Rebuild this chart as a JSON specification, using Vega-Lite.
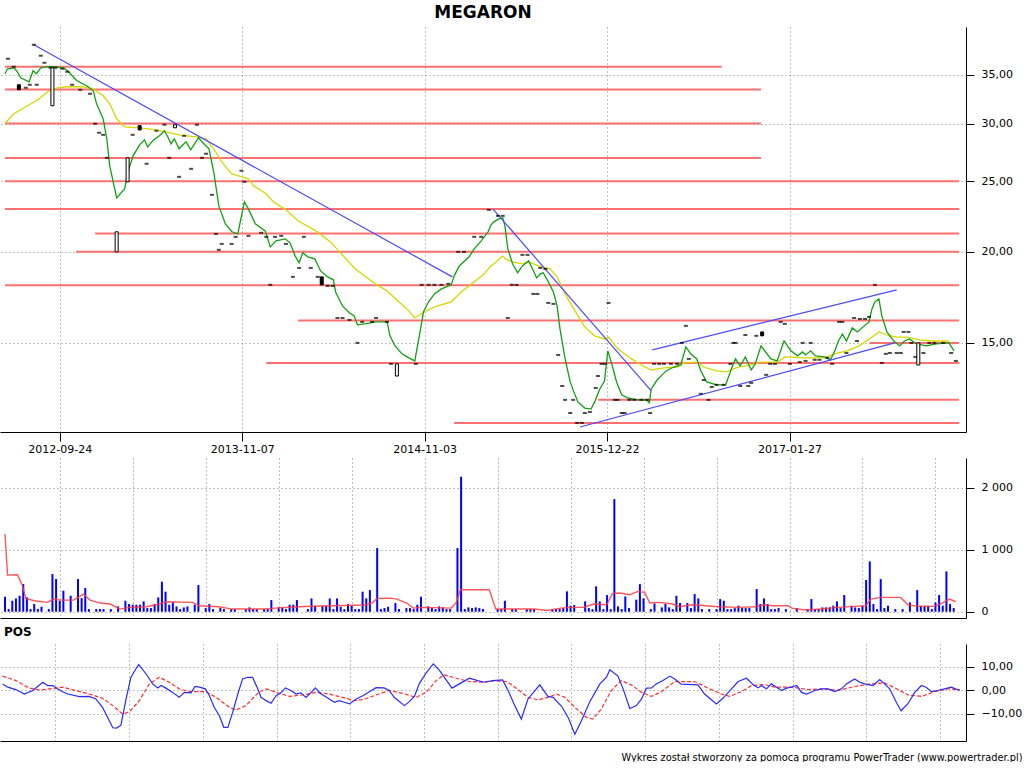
{
"$schema":"https://vega.github.io/schema/vega-lite/v6.json",
"background":"white",
"padding":{"left":0,"top":3,"right":0,"bottom":0},
"spacing":26,
"bounds":"flush",
"config":{"font":"DejaVu Sans","view":{"stroke":null},"axis":{"labelFont":"DejaVu Sans","labelFontSize":11,"labelColor":"black","domainColor":"black","tickColor":"black","gridColor":"#808080","gridDash":[1,3],"gridOpacity":1}},
"datasets":{
"close":[{"i":0,"v":35.11},{"i":0.7,"v":35.67},{"i":2.5,"v":35.78},{"i":3.4,"v":35.33},{"i":4.3,"v":34.67},{"i":6.6,"v":34.23},{"i":7.7,"v":35.45},{"i":8.6,"v":35.11},{"i":9.8,"v":35.78},{"i":11.6,"v":35.9},{"i":13.4,"v":35.9},{"i":16.1,"v":35.78},{"i":17.4,"v":35.33},{"i":19.7,"v":34.34},{"i":22.4,"v":33.8},{"i":24.2,"v":33.27},{"i":25.1,"v":31.93},{"i":26.9,"v":30.45},{"i":27.9,"v":28.59},{"i":28.7,"v":26.25},{"i":30.6,"v":23.72},{"i":32.8,"v":24.41},{"i":33.7,"v":25.76},{"i":35.1,"v":27.09},{"i":36.9,"v":28.05},{"i":38.2,"v":28.5},{"i":39.1,"v":27.87},{"i":40.5,"v":28.41},{"i":42.3,"v":28.86},{"i":43.7,"v":29.32},{"i":44.6,"v":28.77},{"i":45.5,"v":28.14},{"i":46.4,"v":28.59},{"i":47.7,"v":27.7},{"i":49.6,"v":28.32},{"i":50.9,"v":27.61},{"i":52.3,"v":28.32},{"i":53,"v":28.68},{"i":54.5,"v":28.14},{"i":55.9,"v":27.7},{"i":57.2,"v":25.76},{"i":58.6,"v":23.13},{"i":60.4,"v":21.85},{"i":62.2,"v":21.31},{"i":63.8,"v":21.17},{"i":65.6,"v":23.43},{"i":66.7,"v":22.91},{"i":68.6,"v":21.85},{"i":71.3,"v":21.37},{"i":72.7,"v":20.32},{"i":74.3,"v":20.71},{"i":76.8,"v":20.84},{"i":78.1,"v":20.58},{"i":79.5,"v":19.75},{"i":80.6,"v":19.32},{"i":81.6,"v":19.94},{"i":83,"v":19.69},{"i":84.9,"v":19.56},{"i":86.5,"v":18.83},{"i":88.4,"v":18.48},{"i":90,"v":18.31},{"i":90.6,"v":17.62},{"i":92.5,"v":16.86},{"i":94.4,"v":16.49},{"i":95.7,"v":16.34},{"i":96.6,"v":15.88},{"i":98.5,"v":15.93},{"i":100.1,"v":15.98},{"i":101.4,"v":16.03},{"i":103.3,"v":16.03},{"i":104.7,"v":16.03},{"i":105.5,"v":15.34},{"i":106.9,"v":14.86},{"i":108.8,"v":14.49},{"i":110.7,"v":14.31},{"i":112.3,"v":14.17},{"i":113.4,"v":15.19},{"i":114.7,"v":16.55},{"i":116.1,"v":17.08},{"i":117.7,"v":17.51},{"i":119.6,"v":17.79},{"i":122.3,"v":18.02},{"i":123.1,"v":18.54},{"i":124.5,"v":19.13},{"i":127.2,"v":19.69},{"i":128.6,"v":20.19},{"i":130.5,"v":20.71},{"i":132.4,"v":21.31},{"i":133.2,"v":21.78},{"i":134,"v":21.99},{"i":135.3,"v":22.2},{"i":136.4,"v":22.27},{"i":137,"v":21.71},{"i":137.8,"v":20.19},{"i":139.1,"v":19.26},{"i":140.5,"v":18.72},{"i":141.8,"v":19.13},{"i":143.5,"v":19.44},{"i":144.6,"v":18.95},{"i":145.7,"v":18.42},{"i":146.7,"v":18.66},{"i":147.5,"v":18.72},{"i":148.9,"v":18.19},{"i":150.3,"v":17.62},{"i":151.3,"v":16.86},{"i":152.1,"v":15.68},{"i":153.5,"v":14.26},{"i":154.9,"v":13.26},{"i":155.9,"v":12.85},{"i":157,"v":12.45},{"i":158.9,"v":12.21},{"i":160.6,"v":12.17},{"i":161.6,"v":12.45},{"i":163,"v":12.97},{"i":164.3,"v":13.3},{"i":165.2,"v":14.63},{"i":166.3,"v":14.04},{"i":167.6,"v":13.26},{"i":169,"v":12.73},{"i":170.6,"v":12.61},{"i":173.3,"v":12.53},{"i":175.8,"v":12.53},{"i":176.6,"v":12.41},{"i":177.1,"v":12.97},{"i":178.7,"v":13.34},{"i":181.2,"v":13.73},{"i":183.3,"v":13.9},{"i":185.2,"v":13.99},{"i":186.6,"v":14.81},{"i":187.9,"v":14.49},{"i":189.6,"v":14.26},{"i":190.7,"v":13.73},{"i":192.3,"v":13.26},{"i":195,"v":13.14},{"i":197.5,"v":13.14},{"i":198.8,"v":13.69},{"i":199.6,"v":14.04},{"i":200.2,"v":14.26},{"i":201.5,"v":13.95},{"i":202.9,"v":14.35},{"i":204.5,"v":13.77},{"i":205.6,"v":14.04},{"i":207.2,"v":14.86},{"i":209.9,"v":14.26},{"i":211.6,"v":14.17},{"i":213.5,"v":15.09},{"i":215.4,"v":14.63},{"i":217.2,"v":14.4},{"i":218.6,"v":14.58},{"i":219.4,"v":14.44},{"i":220.8,"v":14.63},{"i":222.1,"v":14.4},{"i":224.6,"v":14.35},{"i":226.2,"v":14.22},{"i":227.3,"v":14.58},{"i":228.4,"v":15.09},{"i":229.5,"v":15.43},{"i":230.6,"v":15.09},{"i":232.2,"v":15.73},{"i":233.6,"v":15.53},{"i":235.5,"v":15.83},{"i":236.8,"v":16.03},{"i":237.6,"v":16.7},{"i":238.4,"v":17.08},{"i":239.5,"v":17.24},{"i":240.3,"v":16.34},{"i":241.7,"v":15.53},{"i":243.6,"v":15.09},{"i":245.2,"v":14.86},{"i":246.5,"v":15.09},{"i":247.9,"v":15.19},{"i":249.8,"v":14.95},{"i":252.5,"v":14.86},{"i":255.2,"v":14.95},{"i":258.7,"v":15.0},{"i":260.1,"v":14.63}],
"ma":[{"i":0,"v":30.0},{"i":2.4,"v":30.94},{"i":5.2,"v":31.53},{"i":7.1,"v":31.93},{"i":9,"v":32.34},{"i":11.7,"v":33.17},{"i":14.4,"v":33.59},{"i":17.1,"v":33.7},{"i":21.4,"v":33.7},{"i":24.1,"v":33.48},{"i":26.9,"v":32.75},{"i":28.7,"v":31.93},{"i":30.6,"v":30.45},{"i":32.8,"v":29.69},{"i":36.9,"v":29.6},{"i":41.5,"v":29.41},{"i":44.2,"v":29.23},{"i":47.7,"v":28.95},{"i":52.3,"v":28.77},{"i":55.1,"v":28.59},{"i":57.2,"v":27.7},{"i":59.4,"v":26.58},{"i":62.1,"v":25.6},{"i":64,"v":25.43},{"i":66.7,"v":25.19},{"i":68.1,"v":24.64},{"i":71.6,"v":24.03},{"i":73.5,"v":23.43},{"i":77,"v":22.84},{"i":80.3,"v":22.06},{"i":85.2,"v":21.37},{"i":89.2,"v":20.64},{"i":91.7,"v":20.0},{"i":96,"v":18.95},{"i":101.4,"v":18.08},{"i":104.7,"v":17.68},{"i":107.9,"v":17.08},{"i":110.7,"v":16.6},{"i":112.3,"v":16.23},{"i":115,"v":16.55},{"i":117.7,"v":16.81},{"i":122.3,"v":17.08},{"i":125,"v":17.62},{"i":128.6,"v":18.19},{"i":131.3,"v":18.66},{"i":133.2,"v":19.13},{"i":134,"v":19.26},{"i":136.4,"v":19.75},{"i":137.2,"v":19.56},{"i":139.1,"v":19.38},{"i":141.8,"v":19.26},{"i":143.5,"v":19.38},{"i":146.2,"v":19.13},{"i":149.4,"v":18.95},{"i":151.3,"v":18.48},{"i":153.5,"v":17.51},{"i":156.2,"v":16.6},{"i":158.9,"v":15.78},{"i":161.6,"v":15.34},{"i":164.4,"v":15.19},{"i":165.4,"v":15.28},{"i":167.9,"v":14.72},{"i":171.7,"v":14.26},{"i":174.4,"v":13.99},{"i":177.1,"v":13.77},{"i":180.6,"v":13.86},{"i":184.2,"v":13.9},{"i":186.1,"v":14.08},{"i":189.6,"v":14.12},{"i":191.5,"v":13.9},{"i":195,"v":13.73},{"i":197.7,"v":13.69},{"i":199.6,"v":13.82},{"i":201,"v":13.9},{"i":204.5,"v":13.99},{"i":207.2,"v":14.12},{"i":211.8,"v":14.12},{"i":213.7,"v":14.35},{"i":219.1,"v":14.31},{"i":224.6,"v":14.31},{"i":227.3,"v":14.49},{"i":230.8,"v":14.63},{"i":233.5,"v":14.81},{"i":235.7,"v":15.05},{"i":238.1,"v":15.34},{"i":239.5,"v":15.53},{"i":241.7,"v":15.38},{"i":244.4,"v":15.28},{"i":247.1,"v":15.28},{"i":250.6,"v":15.14},{"i":254.4,"v":15.09},{"i":258.7,"v":15.09}],
"levels":[{"v":35.9,"i0":0,"i1":196.4},{"v":33.4,"i0":0,"i1":207.2},{"v":30.0,"i0":0,"i1":207.2},{"v":26.9,"i0":0,"i1":207.2},{"v":25.0,"i0":0,"i1":261.5},{"v":22.9,"i0":0,"i1":261.5},{"v":21.2,"i0":24.7,"i1":261.5},{"v":20.0,"i0":19.5,"i1":261.5},{"v":18.0,"i0":0,"i1":261.5},{"v":16.1,"i0":80.3,"i1":261.5},{"v":14.08,"i0":71.6,"i1":261.5},{"v":12.53,"i0":162.5,"i1":261.5},{"v":11.65,"i0":123.1,"i1":261.5},{"v":15.0,"i0":237.0,"i1":261.5}],
"trend":[{"i0":7.9,"v0":38.48,"i1":122.6,"v1":18.48},{"i0":133.7,"v0":22.91,"i1":177.1,"v1":12.89},{"i0":177.4,"v0":14.67,"i1":244.4,"v1":17.74},{"i0":157.6,"v0":11.5,"i1":243.8,"v1":15.0}],
"dash":[{"i":0.8,"v":36.82},{"i":7.9,"v":38.48},{"i":9.8,"v":37.17},{"i":10.8,"v":36.35},{"i":2.4,"v":35.9},{"i":5.7,"v":33.59},{"i":6.8,"v":33.91},{"i":8.7,"v":33.91},{"i":12.5,"v":35.78},{"i":13.8,"v":35.78},{"i":15.7,"v":35.67},{"i":17.1,"v":35.33},{"i":18.4,"v":33.91},{"i":20.6,"v":33.38},{"i":23.3,"v":32.96},{"i":24.7,"v":29.98},{"i":25.8,"v":29.14},{"i":26.9,"v":28.95},{"i":27.9,"v":26.92},{"i":35.0,"v":28.95},{"i":38.8,"v":26.42},{"i":41.5,"v":29.32},{"i":43.7,"v":29.89},{"i":45.0,"v":26.92},{"i":47.7,"v":25.35},{"i":49.1,"v":28.86},{"i":51.0,"v":26.0},{"i":52.6,"v":29.89},{"i":54.0,"v":26.92},{"i":55.1,"v":27.27},{"i":56.7,"v":23.95},{"i":57.8,"v":21.17},{"i":58.6,"v":20.13},{"i":59.4,"v":20.51},{"i":62.1,"v":20.51},{"i":63.2,"v":20.97},{"i":64.8,"v":25.84},{"i":65.6,"v":24.96},{"i":66.7,"v":21.04},{"i":70.2,"v":21.24},{"i":71.6,"v":20.97},{"i":74.0,"v":20.97},{"i":75.7,"v":21.04},{"i":77.0,"v":20.51},{"i":72.7,"v":18.02},{"i":78.9,"v":18.48},{"i":80.6,"v":19.01},{"i":81.9,"v":20.97},{"i":83.8,"v":19.01},{"i":85.7,"v":18.48},{"i":88.4,"v":17.96},{"i":89.8,"v":17.96},{"i":91.1,"v":16.23},{"i":92.5,"v":16.23},{"i":94.4,"v":16.13},{"i":96.6,"v":15.0},{"i":97.9,"v":16.03},{"i":100.6,"v":16.03},{"i":101.7,"v":16.23},{"i":104.7,"v":16.03},{"i":105.8,"v":14.04},{"i":112.6,"v":14.04},{"i":114.2,"v":18.02},{"i":116.1,"v":18.02},{"i":117.7,"v":18.02},{"i":119.6,"v":18.02},{"i":121.5,"v":18.08},{"i":124.2,"v":20.0},{"i":125.8,"v":20.0},{"i":128.6,"v":20.97},{"i":130.5,"v":20.97},{"i":132.6,"v":22.84},{"i":135.1,"v":22.41},{"i":136.4,"v":22.41},{"i":137.8,"v":16.23},{"i":138.9,"v":18.02},{"i":140.2,"v":18.02},{"i":141.8,"v":19.81},{"i":143.2,"v":19.81},{"i":144.8,"v":17.51},{"i":145.9,"v":17.51},{"i":146.7,"v":19.01},{"i":148.1,"v":18.95},{"i":148.9,"v":17.02},{"i":150.3,"v":16.97},{"i":151.6,"v":14.44},{"i":152.7,"v":13.09},{"i":153.5,"v":12.53},{"i":155.7,"v":12.53},{"i":154.9,"v":12.02},{"i":156.8,"v":11.65},{"i":158.1,"v":11.65},{"i":158.9,"v":12.02},{"i":160.3,"v":12.06},{"i":161.9,"v":13.01},{"i":162.5,"v":13.51},{"i":163.5,"v":14.04},{"i":164.4,"v":14.04},{"i":165.4,"v":17.02},{"i":167.1,"v":12.53},{"i":167.9,"v":12.53},{"i":169.0,"v":12.02},{"i":169.8,"v":12.02},{"i":171.1,"v":12.53},{"i":172.5,"v":12.53},{"i":174.4,"v":12.53},{"i":176.0,"v":12.53},{"i":176.8,"v":12.02},{"i":177.9,"v":14.04},{"i":179.3,"v":14.04},{"i":180.6,"v":14.04},{"i":182.5,"v":14.04},{"i":184.2,"v":14.04},{"i":185.5,"v":15.0},{"i":186.6,"v":15.83},{"i":187.4,"v":14.26},{"i":190.7,"v":12.77},{"i":191.5,"v":13.34},{"i":192.8,"v":12.53},{"i":193.7,"v":13.05},{"i":195.0,"v":13.14},{"i":196.9,"v":13.14},{"i":198.8,"v":14.04},{"i":199.6,"v":15.0},{"i":200.2,"v":15.0},{"i":201.5,"v":13.09},{"i":203.7,"v":13.09},{"i":204.5,"v":13.22},{"i":202.9,"v":15.38},{"i":205.9,"v":15.34},{"i":208.6,"v":13.56},{"i":209.7,"v":14.04},{"i":211.0,"v":14.04},{"i":212.6,"v":16.03},{"i":213.7,"v":15.93},{"i":215.1,"v":14.04},{"i":217.8,"v":14.12},{"i":218.6,"v":15.0},{"i":219.4,"v":14.17},{"i":220.8,"v":15.0},{"i":221.9,"v":14.22},{"i":223.2,"v":14.22},{"i":225.4,"v":14.31},{"i":226.7,"v":14.04},{"i":228.6,"v":16.03},{"i":229.5,"v":16.03},{"i":230.6,"v":14.53},{"i":232.7,"v":16.23},{"i":233.5,"v":15.09},{"i":234.3,"v":16.18},{"i":235.7,"v":16.18},{"i":236.8,"v":16.29},{"i":238.4,"v":18.02},{"i":240.3,"v":14.08},{"i":241.4,"v":14.49},{"i":242.5,"v":14.53},{"i":244.4,"v":14.53},{"i":245.5,"v":14.53},{"i":246.3,"v":15.53},{"i":247.6,"v":15.53},{"i":248.4,"v":15.0},{"i":249.5,"v":14.35},{"i":251.7,"v":14.53},{"i":253.3,"v":15.0},{"i":254.7,"v":15.0},{"i":257.1,"v":15.0},{"i":259.3,"v":14.53},{"i":260.6,"v":14.17}],
"candle":[{"i":3.8,"top":33.91,"bot":33.38,"kind":"down"},{"i":13,"top":35.78,"bot":31.73,"kind":"up"},{"i":30.6,"top":21.31,"bot":20.0,"kind":"up"},{"i":33.6,"top":26.92,"bot":24.96,"kind":"up"},{"i":36.9,"top":29.8,"bot":29.4,"kind":"down"},{"i":46.6,"top":29.89,"bot":29.6,"kind":"up"},{"i":86.8,"top":18.48,"bot":18.02,"kind":"down"},{"i":107.4,"top":14.04,"bot":13.51,"kind":"up"},{"i":207.5,"top":15.53,"bot":15.34,"kind":"down"},{"i":250.3,"top":15.0,"bot":13.99,"kind":"up"}],
"vol":[{"i":0,"q":242},{"i":1,"q":43},{"i":2,"q":177},{"i":3,"q":215},{"i":4,"q":258},{"i":5,"q":446},{"i":6,"q":231},{"i":7,"q":43},{"i":8,"q":124},{"i":9,"q":43},{"i":10,"q":81},{"i":12,"q":43},{"i":13,"q":607},{"i":14,"q":527},{"i":15,"q":177},{"i":16,"q":339},{"i":18,"q":258},{"i":20,"q":527},{"i":21,"q":220},{"i":22,"q":382},{"i":23,"q":43},{"i":25,"q":43},{"i":26,"q":43},{"i":27,"q":43},{"i":29,"q":43},{"i":31,"q":86},{"i":33,"q":177},{"i":34,"q":124},{"i":35,"q":113},{"i":36,"q":113},{"i":37,"q":113},{"i":38,"q":167},{"i":39,"q":59},{"i":40,"q":59},{"i":41,"q":124},{"i":42,"q":231},{"i":43,"q":484},{"i":44,"q":323},{"i":45,"q":113},{"i":46,"q":151},{"i":47,"q":86},{"i":48,"q":43},{"i":49,"q":70},{"i":50,"q":86},{"i":52,"q":113},{"i":53,"q":430},{"i":55,"q":59},{"i":56,"q":124},{"i":57,"q":43},{"i":59,"q":59},{"i":60,"q":43},{"i":62,"q":43},{"i":63,"q":43},{"i":66,"q":43},{"i":67,"q":70},{"i":68,"q":43},{"i":69,"q":43},{"i":71,"q":43},{"i":72,"q":43},{"i":73,"q":188},{"i":75,"q":70},{"i":76,"q":70},{"i":77,"q":43},{"i":78,"q":113},{"i":79,"q":113},{"i":80,"q":188},{"i":83,"q":43},{"i":84,"q":215},{"i":85,"q":97},{"i":87,"q":97},{"i":88,"q":97},{"i":89,"q":215},{"i":90,"q":43},{"i":91,"q":215},{"i":92,"q":81},{"i":93,"q":43},{"i":94,"q":124},{"i":95,"q":97},{"i":96,"q":43},{"i":97,"q":43},{"i":98,"q":323},{"i":99,"q":215},{"i":100,"q":349},{"i":102,"q":1027},{"i":103,"q":43},{"i":104,"q":59},{"i":105,"q":81},{"i":107,"q":140},{"i":108,"q":43},{"i":110,"q":59},{"i":111,"q":59},{"i":112,"q":43},{"i":113,"q":113},{"i":114,"q":242},{"i":116,"q":86},{"i":117,"q":59},{"i":118,"q":43},{"i":119,"q":86},{"i":120,"q":70},{"i":121,"q":43},{"i":122,"q":43},{"i":124,"q":1027},{"i":125,"q":2177},{"i":126,"q":43},{"i":127,"q":70},{"i":128,"q":59},{"i":129,"q":70},{"i":130,"q":59},{"i":131,"q":43},{"i":135,"q":43},{"i":136,"q":43},{"i":137,"q":177},{"i":139,"q":43},{"i":140,"q":43},{"i":143,"q":43},{"i":144,"q":43},{"i":145,"q":43},{"i":150,"q":43},{"i":151,"q":43},{"i":152,"q":43},{"i":153,"q":59},{"i":154,"q":328},{"i":155,"q":97},{"i":156,"q":108},{"i":159,"q":167},{"i":160,"q":59},{"i":161,"q":43},{"i":162,"q":409},{"i":163,"q":167},{"i":164,"q":43},{"i":165,"q":269},{"i":166,"q":43},{"i":167,"q":1817},{"i":168,"q":86},{"i":169,"q":43},{"i":170,"q":247},{"i":171,"q":59},{"i":173,"q":194},{"i":174,"q":446},{"i":175,"q":215},{"i":177,"q":43},{"i":178,"q":134},{"i":180,"q":70},{"i":181,"q":124},{"i":182,"q":70},{"i":183,"q":43},{"i":184,"q":258},{"i":185,"q":140},{"i":187,"q":140},{"i":188,"q":59},{"i":189,"q":285},{"i":190,"q":215},{"i":191,"q":43},{"i":193,"q":43},{"i":195,"q":43},{"i":196,"q":204},{"i":197,"q":177},{"i":198,"q":43},{"i":199,"q":43},{"i":200,"q":59},{"i":201,"q":97},{"i":202,"q":59},{"i":203,"q":59},{"i":204,"q":59},{"i":206,"q":366},{"i":207,"q":124},{"i":208,"q":215},{"i":209,"q":124},{"i":210,"q":43},{"i":211,"q":43},{"i":212,"q":59},{"i":214,"q":43},{"i":217,"q":59},{"i":220,"q":43},{"i":221,"q":204},{"i":222,"q":43},{"i":223,"q":43},{"i":224,"q":70},{"i":225,"q":70},{"i":226,"q":70},{"i":227,"q":97},{"i":228,"q":167},{"i":229,"q":59},{"i":230,"q":269},{"i":232,"q":97},{"i":233,"q":70},{"i":234,"q":59},{"i":235,"q":97},{"i":236,"q":511},{"i":237,"q":812},{"i":238,"q":124},{"i":239,"q":43},{"i":240,"q":527},{"i":241,"q":59},{"i":242,"q":97},{"i":244,"q":43},{"i":246,"q":43},{"i":248,"q":151},{"i":250,"q":349},{"i":251,"q":97},{"i":252,"q":97},{"i":253,"q":97},{"i":254,"q":43},{"i":255,"q":151},{"i":256,"q":269},{"i":257,"q":97},{"i":258,"q":650},{"i":259,"q":124},{"i":260,"q":59}],
"volma":[{"i":0,"m":1253},{"i":0.7,"m":591},{"i":3.4,"m":597},{"i":4.8,"m":419},{"i":5.7,"m":215},{"i":8,"m":177},{"i":11.6,"m":151},{"i":13.4,"m":204},{"i":15.2,"m":188},{"i":18.8,"m":188},{"i":21.5,"m":285},{"i":23.3,"m":188},{"i":26,"m":140},{"i":28.8,"m":124},{"i":31.5,"m":43},{"i":34.2,"m":70},{"i":38.7,"m":81},{"i":42.3,"m":124},{"i":44.1,"m":161},{"i":51.4,"m":151},{"i":53.2,"m":97},{"i":58.6,"m":81},{"i":62.2,"m":43},{"i":71.2,"m":43},{"i":74,"m":59},{"i":80.3,"m":81},{"i":89.3,"m":97},{"i":98.4,"m":108},{"i":100.6,"m":140},{"i":102,"m":215},{"i":105.6,"m":220},{"i":107.4,"m":204},{"i":110.1,"m":140},{"i":111.9,"m":59},{"i":114.6,"m":70},{"i":122.3,"m":59},{"i":123.7,"m":151},{"i":124.8,"m":355},{"i":132.7,"m":355},{"i":134.5,"m":43},{"i":137.8,"m":43},{"i":145,"m":43},{"i":148.6,"m":20},{"i":152.3,"m":59},{"i":155,"m":70},{"i":158.6,"m":70},{"i":161.3,"m":124},{"i":164.9,"m":113},{"i":166.5,"m":296},{"i":168.5,"m":301},{"i":171.2,"m":274},{"i":173.5,"m":328},{"i":175.3,"m":312},{"i":176.7,"m":140},{"i":179.4,"m":151},{"i":183,"m":124},{"i":184.8,"m":81},{"i":188.4,"m":113},{"i":192,"m":97},{"i":195.7,"m":81},{"i":201.1,"m":70},{"i":205.6,"m":81},{"i":208.3,"m":113},{"i":210.1,"m":97},{"i":214.6,"m":97},{"i":215.6,"m":59},{"i":219.2,"m":27},{"i":223.7,"m":43},{"i":228.2,"m":70},{"i":232.7,"m":86},{"i":235.9,"m":97},{"i":237.3,"m":204},{"i":240,"m":231},{"i":245.4,"m":231},{"i":247.6,"m":108},{"i":250.8,"m":86},{"i":254.4,"m":86},{"i":256.2,"m":124},{"i":258.9,"m":204},{"i":260.5,"m":161}],
"pos":[{"i":0.7,"p":2.7},{"i":2.1,"p":1.3},{"i":4.3,"p":0.3},{"i":6.6,"p":-1.6},{"i":8.9,"p":-0.1},{"i":11.6,"p":3.4},{"i":12.9,"p":2.0},{"i":14.3,"p":2.0},{"i":15.6,"p":0.6},{"i":17,"p":-0.6},{"i":18.4,"p":-1.6},{"i":21.5,"p":-2.7},{"i":24.2,"p":-2.6},{"i":26,"p":-3.7},{"i":27.8,"p":-7.2},{"i":29.2,"p":-11.5},{"i":30.6,"p":-15.9},{"i":31.6,"p":-16.0},{"i":32.8,"p":-14.8},{"i":34.2,"p":-3.7},{"i":35.5,"p":5.5},{"i":37.6,"p":10.9},{"i":39.6,"p":7.0},{"i":41.4,"p":2.7},{"i":42.8,"p":1.0},{"i":43.7,"p":2.0},{"i":45,"p":0.9},{"i":46.8,"p":-0.9},{"i":48.6,"p":-3.0},{"i":50,"p":-0.9},{"i":51.8,"p":-1.1},{"i":52.9,"p":1.6},{"i":54.1,"p":1.3},{"i":55.7,"p":0.6},{"i":56.8,"p":-2.3},{"i":58.1,"p":-7.2},{"i":59.5,"p":-10.8},{"i":60.7,"p":-15.7},{"i":61.8,"p":-15.7},{"i":63.1,"p":-9.4},{"i":64.5,"p":-1.6},{"i":65.8,"p":4.8},{"i":67.2,"p":5.5},{"i":68.5,"p":5.5},{"i":69.9,"p":0.6},{"i":70.8,"p":-3.0},{"i":72.2,"p":-4.4},{"i":73.5,"p":-5.5},{"i":74.9,"p":-2.3},{"i":76.2,"p":-1.1},{"i":77.4,"p":1.0},{"i":78.9,"p":-0.1},{"i":80.3,"p":-1.6},{"i":81.6,"p":-1.1},{"i":83,"p":-3.0},{"i":84.4,"p":-0.9},{"i":85.5,"p":1.0},{"i":87.1,"p":-1.6},{"i":88.9,"p":-3.3},{"i":90.7,"p":-5.1},{"i":92,"p":-4.4},{"i":93.4,"p":-5.1},{"i":94.8,"p":-5.8},{"i":96.6,"p":-3.7},{"i":98.4,"p":-2.3},{"i":100.2,"p":-0.6},{"i":102,"p":1.1},{"i":104.2,"p":1.0},{"i":105.6,"p":-0.1},{"i":106.9,"p":-3.0},{"i":108.3,"p":-4.8},{"i":109.7,"p":-6.5},{"i":111,"p":-4.8},{"i":112.4,"p":-2.6},{"i":113.7,"p":2.7},{"i":115.6,"p":7.4},{"i":117.5,"p":11.2},{"i":119.2,"p":8.4},{"i":121,"p":4.4},{"i":122.6,"p":0.9},{"i":124.6,"p":2.7},{"i":127.3,"p":5.1},{"i":129.6,"p":4.1},{"i":131.4,"p":3.4},{"i":133.6,"p":4.1},{"i":136.3,"p":4.4},{"i":137.8,"p":-0.1},{"i":139.6,"p":-6.5},{"i":141.4,"p":-12.2},{"i":143.2,"p":-3.7},{"i":146.4,"p":2.3},{"i":148.6,"p":-2.6},{"i":150,"p":-3.0},{"i":152.3,"p":-6.8},{"i":154.1,"p":-11.5},{"i":155.9,"p":-18.6},{"i":157.7,"p":-12.9},{"i":159.9,"p":-5.1},{"i":162.7,"p":2.7},{"i":164.5,"p":5.5},{"i":165.4,"p":8.7},{"i":167.6,"p":6.0},{"i":169,"p":0.6},{"i":170.8,"p":-7.7},{"i":172.6,"p":-6.5},{"i":174,"p":-3.7},{"i":175.3,"p":0.9},{"i":176.7,"p":1.0},{"i":178,"p":2.7},{"i":179.8,"p":4.1},{"i":181.7,"p":6.0},{"i":183,"p":4.8},{"i":184.8,"p":2.6},{"i":189.3,"p":2.3},{"i":191.1,"p":-1.6},{"i":194.3,"p":-5.8},{"i":196.1,"p":-3.4},{"i":198.4,"p":0.6},{"i":200.2,"p":3.7},{"i":202.5,"p":5.1},{"i":204.3,"p":2.3},{"i":205.6,"p":1.0},{"i":206.5,"p":2.0},{"i":207.9,"p":0.6},{"i":209.2,"p":2.7},{"i":210.6,"p":1.3},{"i":212,"p":-0.1},{"i":213.3,"p":0.9},{"i":214.7,"p":1.3},{"i":216.1,"p":2.0},{"i":217.4,"p":-0.9},{"i":218.8,"p":-1.6},{"i":221,"p":-0.1},{"i":222.8,"p":0.6},{"i":224.6,"p":0.6},{"i":226.4,"p":-0.6},{"i":228.2,"p":0.6},{"i":229.6,"p":2.7},{"i":231.8,"p":4.8},{"i":233.2,"p":3.4},{"i":234.5,"p":2.7},{"i":236.8,"p":2.0},{"i":238.6,"p":4.5},{"i":239.9,"p":2.7},{"i":241.3,"p":0.6},{"i":243.1,"p":-5.1},{"i":244.4,"p":-8.7},{"i":246.2,"p":-5.8},{"i":248.1,"p":-0.9},{"i":249.9,"p":2.0},{"i":251.2,"p":1.3},{"i":252.6,"p":-0.6},{"i":254.4,"p":-0.1},{"i":256.2,"p":0.6},{"i":258,"p":1.3},{"i":260.3,"p":-0.1}],
"posma":[{"i":0.7,"s":6.0},{"i":4.3,"s":4.1},{"i":8,"s":0.9},{"i":10.7,"s":0.1},{"i":13.4,"s":0.6},{"i":17,"s":1.3},{"i":20.6,"s":-0.1},{"i":24.2,"s":-1.6},{"i":27.8,"s":-3.4},{"i":30.6,"s":-6.5},{"i":33.3,"s":-10.1},{"i":35.1,"s":-9.1},{"i":37.8,"s":-4.4},{"i":40.5,"s":2.7},{"i":43.2,"s":5.5},{"i":45.9,"s":3.4},{"i":48.6,"s":0.6},{"i":51.4,"s":-0.6},{"i":55.9,"s":-0.6},{"i":58.6,"s":-3.0},{"i":62.2,"s":-7.2},{"i":64,"s":-8.4},{"i":66.7,"s":-6.5},{"i":70.3,"s":-0.6},{"i":72.2,"s":0.6},{"i":74.9,"s":-0.9},{"i":78.5,"s":-2.6},{"i":82.1,"s":-2.0},{"i":85.7,"s":-0.9},{"i":89.3,"s":-1.6},{"i":92.9,"s":-3.0},{"i":96.1,"s":-4.4},{"i":98.4,"s":-4.0},{"i":102,"s":-2.0},{"i":105.6,"s":-0.1},{"i":109.2,"s":-1.3},{"i":112.8,"s":-3.0},{"i":115.6,"s":-0.9},{"i":118.3,"s":4.1},{"i":120.5,"s":6.5},{"i":123.7,"s":5.1},{"i":127.3,"s":3.7},{"i":130.9,"s":3.4},{"i":133.6,"s":4.0},{"i":137.3,"s":3.7},{"i":137.8,"s":3.4},{"i":140.5,"s":0.3},{"i":143.2,"s":-3.0},{"i":145.9,"s":-4.1},{"i":148.6,"s":-3.0},{"i":150.9,"s":-1.6},{"i":153.2,"s":-3.0},{"i":155.9,"s":-7.2},{"i":159,"s":-11.5},{"i":160.8,"s":-12.2},{"i":163.1,"s":-7.9},{"i":165.8,"s":-0.1},{"i":168.5,"s":4.1},{"i":171.2,"s":2.3},{"i":174,"s":-0.9},{"i":176.7,"s":-2.6},{"i":179.4,"s":-0.6},{"i":183,"s":3.7},{"i":188.4,"s":3.7},{"i":192,"s":0.9},{"i":195.7,"s":-1.6},{"i":197.9,"s":-2.6},{"i":201.1,"s":-0.6},{"i":203.8,"s":2.0},{"i":207.4,"s":2.4},{"i":210.1,"s":1.3},{"i":214.7,"s":1.3},{"i":219.2,"s":0.3},{"i":223.7,"s":0.6},{"i":227.3,"s":-0.1},{"i":231.8,"s":1.6},{"i":236.3,"s":2.7},{"i":239.9,"s":3.1},{"i":243.6,"s":0.3},{"i":246.3,"s":-2.0},{"i":249.9,"s":-2.6},{"i":253.5,"s":-0.6},{"i":257.1,"s":0.6},{"i":260.3,"s":0.3}]
},
"vconcat":[
{
"width":966,"height":405,
"title":{"text":"MEGARON","anchor":"middle","frame":"group","fontSize":17,"fontWeight":"bold","font":"DejaVu Sans","color":"black","baseline":"alphabetic","offset":-7.5},
"layer":[
{"data":{"name":"levels"},"mark":{"type":"rule","color":"#ff7070","strokeWidth":2},
"encoding":{
"x":{"field":"i0","type":"quantitative","title":null,"scale":{"domain":[0,262],"nice":false,"zero":false},
"axis":{"orient":"bottom","values":[15,65,115,165,215],"labelExpr":"datum.value==15?'2012-09-24':datum.value==65?'2013-11-07':datum.value==115?'2014-11-03':datum.value==165?'2015-12-22':'2017-01-27'","tickSize":9,"labelPadding":2,"grid":true,"labelFlush":false,"labelOverlap":false}},
"x2":{"field":"i1"},
"y":{"field":"v","type":"quantitative","title":null,"scale":{"type":"log","domain":[11.32,40.7],"nice":false,"zero":false},
"axis":{"orient":"right","values":[15,20,25,30,35],"labelExpr":"replace(format(datum.value,'.2f'),'.',',')","tickSize":8,"labelPadding":7,"grid":true}}}},
{"data":{"name":"ma"},"mark":{"type":"line","color":"#d6d600","strokeWidth":1.3},
"encoding":{"x":{"field":"i","type":"quantitative","title":null},"y":{"field":"v","type":"quantitative","title":null}}},
{"data":{"name":"close"},"mark":{"type":"line","color":"#12a012","strokeWidth":1.3},
"encoding":{"x":{"field":"i","type":"quantitative","title":null},"y":{"field":"v","type":"quantitative","title":null}}},
{"data":{"name":"trend"},"mark":{"type":"rule","color":"#4a4aff","strokeWidth":1.2},
"encoding":{"x":{"field":"i0","type":"quantitative","title":null},"x2":{"field":"i1"},"y":{"field":"v0","type":"quantitative","title":null},"y2":{"field":"v1"}}},
{"data":{"name":"dash"},"mark":{"type":"tick","orient":"horizontal","color":"black","size":4,"thickness":2},
"encoding":{"x":{"field":"i","type":"quantitative","title":null},"y":{"field":"v","type":"quantitative","title":null}}},
{"data":{"name":"candle"},"mark":{"type":"bar","size":3,"stroke":"black","strokeWidth":1},
"encoding":{"x":{"field":"i","type":"quantitative","title":null},"y":{"field":"top","type":"quantitative","title":null},"y2":{"field":"bot"},
"color":{"field":"kind","type":"nominal","scale":{"domain":["up","down"],"range":["white","black"]},"legend":null}}}
]
},
{
"width":966,"height":160,
"layer":[
{"data":{"name":"vol"},"mark":{"type":"bar","color":"#0000ff","size":2},
"encoding":{
"x":{"field":"i","type":"quantitative","title":null,"scale":{"domain":[0,262],"nice":false,"zero":false},
"axis":{"values":[15,35,55,75,95,115,135,155,175,195,215,235,255],"labels":false,"ticks":false,"grid":true}},
"y":{"field":"q","type":"quantitative","title":null,"scale":{"domain":[-101,2479],"nice":false,"zero":false},
"axis":{"orient":"right","values":[0,500,1000,1500,2000],"labelExpr":"replace(format(datum.value,','),',',' ')","tickSize":8,"labelPadding":7,"grid":true}},
"y2":{"datum":0}}},
{"data":{"name":"volma"},"mark":{"type":"line","color":"#ff3a3a","strokeWidth":1.4,"opacity":0.85},
"encoding":{"x":{"field":"i","type":"quantitative","title":null},"y":{"field":"m","type":"quantitative","title":null}}}
]
},
{
"width":966,"height":97,
"title":{"text":"POS","anchor":"start","frame":"group","fontSize":12,"fontWeight":"bold","font":"DejaVu Sans","color":"black","baseline":"alphabetic","offset":-3.5,"dx":4},
"layer":[
{"mark":{"type":"rule","color":"black","strokeWidth":1.2},
"encoding":{"y":{"datum":0,"type":"quantitative","scale":{"domain":[-21.5,19.6],"nice":false,"zero":false},
"axis":{"orient":"right","values":[-10,0,10],"labelExpr":"replace(format(datum.value,'.2f'),'.',',')","tickSize":8,"labelPadding":7,"grid":true,"title":null}}}},
{"data":{"name":"posma"},"mark":{"type":"line","color":"#ff3030","strokeWidth":1.2,"strokeDash":[4,2]},
"encoding":{"x":{"field":"i","type":"quantitative","title":"Wykres został stworzony za pomocą programu PowerTrader (www.powertrader.pl)"},"y":{"field":"s","type":"quantitative","title":null}}},
{"data":{"name":"pos"},"mark":{"type":"line","color":"#2a2aff","strokeWidth":1.2},
"encoding":{
"x":{"field":"i","type":"quantitative","title":"Wykres został stworzony za pomocą programu PowerTrader (www.powertrader.pl)","scale":{"domain":[0,262],"nice":false,"zero":false},
"axis":{"values":[15,35,55,75,95,115,135,155,175,195,215,235,255],"labels":false,"ticks":false,"grid":true,
"titleFont":"DejaVu Sans","titleFontSize":9.8,"titleFontWeight":"normal","titleColor":"black","titleX":1022,"titleY":16,"titleAlign":"right","titleBaseline":"middle","titleAngle":0}},
"y":{"field":"p","type":"quantitative","title":null}}}
]
}
]
}
